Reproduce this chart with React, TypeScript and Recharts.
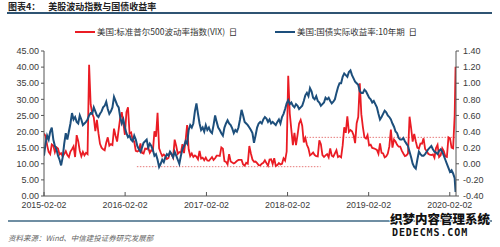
import React from 'react';
import { ComposedChart, Line, XAxis, YAxis, ReferenceLine } from 'recharts';

// Weekly (Monday) observations, one array per year
const weekStarts = ['2015-02-02', '2016-01-04', '2017-01-02', '2018-01-01', '2019-01-07', '2020-01-06'];

const vix2015 = [
  19.4, 18.6, 15.8, 13.7,
  13.0, 16.0, 15.6, 13.6, 15.1,
  14.7, 12.9, 13.3, 12.3,
  13.0, 13.9, 12.7, 12.1,
  13.8, 14.5, 15.4, 12.1, 18.9,
  17.0, 14.0, 12.3, 13.7,
  12.6, 13.4, 13.0, 40.7, 28.4,
  25.6, 24.4, 20.1, 23.6,
  19.5, 16.2, 15.0, 14.5,
  14.2, 16.5, 18.2, 15.6, 16.1,
  15.8, 20.9, 18.7, 16.9,
];
const vix2016 = [
  20.6, 24.3, 26.0, 22.5,
  19.0, 26.0, 27.5, 19.4, 19.7,
  17.4, 16.9, 14.0, 13.8,
  14.1, 16.3, 13.4, 13.2,
  14.7, 14.6, 15.0, 13.4, 14.2,
  14.0, 20.1, 18.4, 25.8,
  14.8, 13.5, 12.4, 12.9,
  12.4, 11.5, 11.8, 13.5, 12.9,
  11.9, 17.5, 15.5, 13.1,
  13.6, 13.4, 16.1, 13.3, 17.1,
  22.0, 14.5, 12.4, 13.2,
  12.1, 12.6, 12.2, 11.4,
];
const vix2017 = [
  14.0, 11.6, 11.9, 11.1, 11.9,
  11.0, 10.9, 11.5, 12.1,
  11.2, 11.7, 12.5, 12.5,
  12.4, 15.1, 14.7, 10.8,
  10.6, 9.8, 13.0, 10.7, 10.4,
  10.1, 10.4, 10.9, 11.2,
  11.2, 11.2, 9.8, 9.4, 10.3,
  10.0, 15.5, 13.2, 11.3,
  10.6, 10.7, 10.2, 9.6,
  9.5, 10.0, 10.3, 11.1, 10.2,
  9.4, 11.3, 11.4, 9.9,
  11.7, 9.3, 9.6, 10.2,
];
const vix2018 = [
  9.8, 10.0, 11.7, 11.0, 13.8,
  37.3, 25.6, 20.6, 15.8,
  19.6, 15.8, 19.0, 22.5,
  23.6, 21.8, 16.6, 18.0, 15.9,
  14.8, 12.6, 13.0, 13.5,
  12.7, 12.4, 12.3, 17.3,
  16.1, 12.7, 12.1, 12.6, 13.0,
  12.0, 14.8, 12.5, 12.2,
  13.2, 14.2, 12.1, 12.4,
  12.0, 15.7, 21.3, 19.6, 24.7,
  19.9, 20.5, 20.1, 18.9,
  16.4, 22.6, 24.5, 35.0, 25.4,
];
const vix2019 = [
  21.4, 18.2, 17.8, 18.9,
  15.7, 15.9, 14.9, 14.8,
  14.6, 14.3, 13.1, 16.3,
  13.4, 13.2, 12.0, 12.3, 13.1,
  15.4, 20.6, 15.0, 17.5,
  16.9, 15.9, 15.3, 15.3,
  14.1, 13.2, 12.4, 12.6, 13.2,
  24.6, 21.1, 16.9, 19.3,
  17.0, 15.0, 14.7, 16.3, 16.2,
  17.9, 14.6, 14.0, 13.1,
  12.8, 12.7, 12.9, 11.9,
  14.9, 15.9, 12.1, 12.6, 14.8,
];
const vix2020 = [13.9, 12.3, 12.1, 18.2, 17.9, 15.0, 14.8, 25.0];

const ry2015 = [
  0.10, 0.25, 0.35, 0.30,
  0.40, 0.45, 0.30, 0.22, 0.18,
  0.10, 0.05, -0.02, 0.08,
  0.25, 0.38, 0.30, 0.40,
  0.50, 0.63, 0.55, 0.58, 0.52,
  0.50, 0.60, 0.55, 0.48,
  0.50, 0.52, 0.55, 0.60, 0.63,
  0.62, 0.70, 0.65, 0.60,
  0.58, 0.62, 0.65, 0.70,
  0.72, 0.77, 0.68, 0.62, 0.65,
  0.70, 0.83, 0.78, 0.73,
];
const ry2016 = [
  0.70, 0.58, 0.50, 0.55,
  0.45, 0.38, 0.33, 0.35, 0.30,
  0.28, 0.35, 0.30, 0.22,
  0.18, 0.15, 0.20, 0.26,
  0.28, 0.30, 0.20, 0.25, 0.22,
  0.17, 0.10, 0.12, 0.05,
  -0.04, 0.00, 0.05, 0.02,
  0.08, 0.12, 0.10, 0.15, 0.12,
  0.08, 0.15, 0.10, 0.05,
  0.00, 0.10, 0.18, 0.22, 0.28,
  0.25, 0.42, 0.48, 0.45,
  0.50, 0.65, 0.75, 0.62,
];
const ry2017 = [
  0.50, 0.42, 0.45, 0.40, 0.48,
  0.42, 0.45, 0.40, 0.38,
  0.48, 0.60, 0.52, 0.45,
  0.42, 0.38, 0.35, 0.45,
  0.50, 0.54, 0.50, 0.48, 0.44,
  0.38, 0.42, 0.40, 0.45,
  0.55, 0.67, 0.60, 0.52, 0.50,
  0.48, 0.45, 0.42, 0.38,
  0.26, 0.35, 0.45, 0.50,
  0.52, 0.50, 0.55, 0.58, 0.56,
  0.52, 0.55, 0.50, 0.52,
  0.50, 0.48, 0.52, 0.55,
];
const ry2018 = [
  0.50, 0.58, 0.62, 0.68, 0.75,
  0.79, 0.74, 0.76, 0.72,
  0.70, 0.74, 0.72, 0.68,
  0.70, 0.72, 0.78, 0.85, 0.88,
  0.84, 0.94, 0.90, 0.82,
  0.80, 0.84, 0.78, 0.76,
  0.72, 0.74, 0.76, 0.82, 0.80,
  0.82, 0.78, 0.75, 0.77,
  0.80, 0.88, 0.95, 1.00,
  1.00, 1.08, 1.12, 1.10, 1.08,
  1.14, 1.16, 1.10, 1.06,
  1.02, 1.00, 0.98, 0.90, 0.88,
];
const ry2019 = [
  0.88, 0.92, 0.90, 0.86,
  0.82, 0.80, 0.76, 0.78,
  0.74, 0.70, 0.62, 0.55,
  0.58, 0.62, 0.66, 0.64, 0.60,
  0.58, 0.55, 0.50, 0.46,
  0.40, 0.38, 0.32, 0.30,
  0.30, 0.32, 0.28, 0.25, 0.22,
  0.15, 0.08, 0.00, -0.04,
  -0.06, 0.05, 0.15, 0.12, 0.10,
  0.10, 0.12, 0.15, 0.18,
  0.20, 0.22, 0.18, 0.15,
  0.14, 0.12, 0.16, 0.18, 0.15,
];
const ry2020 = [0.10, 0.05, 0.00, -0.05, -0.10, -0.08, -0.12, -0.18];

// last observation
const lastDate = '2020-02-28';
const lastVix = 40.1;
const lastRy = -0.35;

const domainStart = '2015-02-02';
const domainEnd = '2020-03-01';
const xTickLabels = ['2015-02-02', '2016-02-02', '2017-02-02', '2018-02-02', '2019-02-02', '2020-02-02'];
const leftTicks = [0, 5, 10, 15, 20, 25, 30, 35, 40, 45];
const rightTicks = [-0.4, -0.2, 0, 0.2, 0.4, 0.6, 0.8, 1.0, 1.2, 1.4];

// dotted reference levels (VIX axis)
const refLowLevel = 9.1;
const refLowFrom = '2016-03-26';
const refLowTo = '2018-07-01';
const refHighLevel = 18.2;
const refHighFrom = '2018-04-15';
const refHighTo = '2020-02-29';

const seriesNames = ['美国:标准普尔500波动率指数(VIX)  日', '美国:国债实际收益率:10年期  日'];
const title = '图表4：';
const subtitle = '美股波动指数与国债收益率';
const source = '资料来源：Wind、中信建投证券研究发展部';

const RED = '#ea1c24';
const BLUE = '#1d4f7c';
const DAY = 86400000;
const ts = (s: string) => Date.parse(s + 'T00:00:00Z');

const vixYears = [vix2015, vix2016, vix2017, vix2018, vix2019, vix2020];
const ryYears = [ry2015, ry2016, ry2017, ry2018, ry2019, ry2020];

const rows: { t: number; vix: number; ry: number }[] = [];
vixYears.forEach((arr, i) => {
  const s = ts(weekStarts[i]);
  arr.forEach((v, j) => {
    rows.push({ t: s + j * 7 * DAY, vix: v, ry: ryYears[i][j] });
  });
});
rows.push({ t: ts(lastDate), vix: lastVix, ry: lastRy });

const xTicks = xTickLabels.map(ts);
const labelOf = (v: number) => {
  const i = xTicks.indexOf(v);
  return i >= 0 ? xTickLabels[i] : '';
};

const AXIS = '#555';
const TXT = '#3a3a3a';
const tickFont = { fontFamily: '"Liberation Sans", Arial, sans-serif', fontSize: 9, fill: TXT };

const XTick = (props: any) => {
  const { x, y, payload } = props;
  return (
    <g>
      <line x1={x} x2={x} y1={y - 4} y2={y} stroke={AXIS} strokeWidth={1} />
      <text x={x} y={y + 12} textAnchor="middle" {...tickFont} fontSize={8.8}>
        {labelOf(payload.value)}
      </text>
    </g>
  );
};

export default function App() {
  return (
    <div
      style={{
        position: 'absolute',
        left: 0,
        top: 0,
        width: 500,
        height: 247,
        background: '#fff',
        overflow: 'hidden',
        fontFamily: '"Noto Sans CJK SC", sans-serif',
      }}
    >
      {/* header */}
      <div style={{ position: 'absolute', left: 8, top: 0, fontSize: 9, fontWeight: 700, color: '#222', lineHeight: '13px', whiteSpace: 'nowrap' }}>
        <span>{title}</span>
        <span style={{ marginLeft: 8 }}>{subtitle}</span>
      </div>
      <div style={{ position: 'absolute', left: 7, top: 12, width: 485, height: 1.5, background: '#2f5473' }} />

      {/* legend */}
      <div style={{ position: 'absolute', left: 75, top: 31, width: 20, height: 2, background: RED }} />
      <div style={{ position: 'absolute', left: 97, top: 25, fontSize: 8.5, color: '#333', lineHeight: '13px', whiteSpace: 'pre' }}>{seriesNames[0]}</div>
      <div style={{ position: 'absolute', left: 275, top: 31, width: 20, height: 2, background: BLUE }} />
      <div style={{ position: 'absolute', left: 297, top: 25, fontSize: 8.5, color: '#333', lineHeight: '13px', whiteSpace: 'pre' }}>{seriesNames[1]}</div>

      <div style={{ position: 'absolute', left: 0, top: 0 }}>
        <ComposedChart width={500} height={247} data={rows} margin={{ top: 51, right: 0, bottom: 31, left: 0 }}>
          <XAxis
            dataKey="t"
            type="number"
            domain={[ts(domainStart), ts(domainEnd)]}
            ticks={xTicks}
            interval={0}
            tickLine={false}
            tickSize={0}
            tickMargin={0}
            height={20}
            axisLine={{ stroke: AXIS }}
            tick={<XTick />}
            allowDataOverflow
          />
          <YAxis
            yAxisId="left"
            orientation="left"
            domain={[0, 45]}
            ticks={leftTicks}
            width={44}
            tickFormatter={(v: number) => v.toFixed(2)}
            tick={tickFont}
            tickSize={3}
            tickMargin={2}
            tickLine={{ stroke: AXIS }}
            axisLine={{ stroke: AXIS }}
            interval={0}
          />
          <YAxis
            yAxisId="right"
            orientation="right"
            domain={[-0.4, 1.4]}
            ticks={rightTicks}
            width={44}
            tickFormatter={(v: number) => v.toFixed(2)}
            tick={tickFont}
            tickSize={3}
            tickMargin={4}
            tickLine={{ stroke: AXIS }}
            axisLine={{ stroke: AXIS }}
            interval={0}
          />
          <ReferenceLine
            yAxisId="left"
            segment={[{ x: ts(refLowFrom), y: refLowLevel }, { x: ts(refLowTo), y: refLowLevel }]}
            stroke="#e67a7a"
            strokeDasharray="1.5 1.5"
            strokeWidth={1}
          />
          <ReferenceLine
            yAxisId="left"
            segment={[{ x: ts(refHighFrom), y: refHighLevel }, { x: ts(refHighTo), y: refHighLevel }]}
            stroke="#e67a7a"
            strokeDasharray="1.5 1.5"
            strokeWidth={1}
          />
          <Line yAxisId="left" dataKey="vix" stroke={RED} strokeWidth={1.8} dot={false} isAnimationActive={false} type="linear" />
          <Line yAxisId="right" dataKey="ry" stroke={BLUE} strokeWidth={2} dot={false} isAnimationActive={false} type="linear" />
        </ComposedChart>
      </div>

      {/* footer */}
      <div style={{ position: 'absolute', left: 8, top: 220, width: 484, height: 1.5, background: '#6f8ea3' }} />
      <div style={{ position: 'absolute', left: 8, top: 232, fontSize: 7.5, fontStyle: 'italic', color: '#666', lineHeight: '12px', whiteSpace: 'nowrap' }}>{source}</div>

      {/* site watermark */}
      <div
        style={{
          position: 'absolute',
          left: 390,
          top: 211,
          fontSize: 12.5,
          fontWeight: 900,
          color: '#111',
          lineHeight: '16px',
          whiteSpace: 'nowrap',
          textShadow: '1px 0 #fff, -1px 0 #fff, 0 1px #fff, 0 -1px #fff',
        }}
      >
        织梦内容管理系统
      </div>
      <div
        style={{
          position: 'absolute',
          left: 392,
          top: 227,
          fontSize: 10,
          fontWeight: 700,
          fontFamily: '"DejaVu Sans Mono", monospace',
          letterSpacing: 0.9,
          color: '#111',
          lineHeight: '12px',
          whiteSpace: 'nowrap',
          textShadow: '1px 0 #fff, -1px 0 #fff, 0 1px #fff, 0 -1px #fff',
        }}
      >
        DEDECMS.COM
      </div>
    </div>
  );
}
